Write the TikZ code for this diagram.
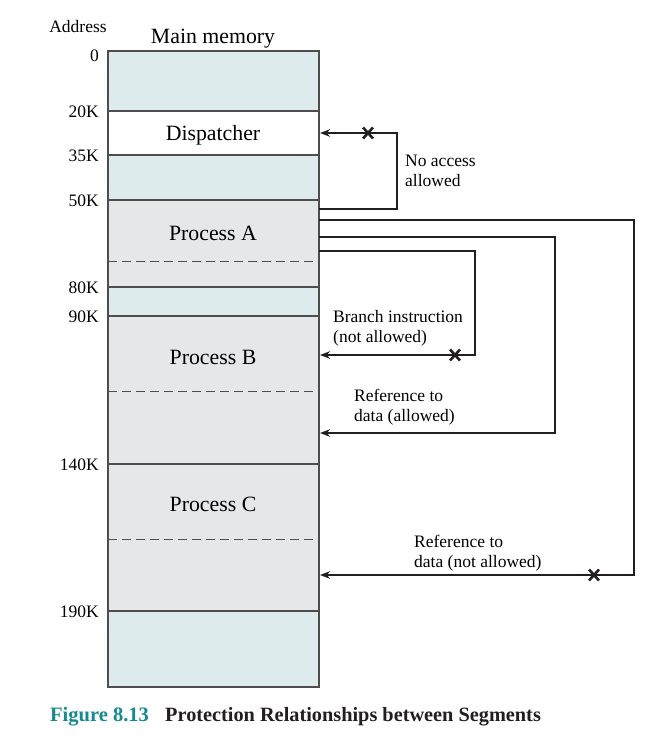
\documentclass[tikz,border=0pt]{standalone}
\usepackage{fontspec}
\setmainfont{Liberation Serif}
\usetikzlibrary{arrows.meta}
\definecolor{freemem}{HTML}{DDEBEC}
\definecolor{procmem}{HTML}{E6E7E9}
\definecolor{linegray}{HTML}{231F20}
\definecolor{figteal}{HTML}{168A8C}
\tikzset{deny/.pic={\draw[linegray,line width=2.6pt] (-5,-5.5)--(5,5.5) (-5,5.5)--(5,-5.5);}}
\begin{document}
\begin{tikzpicture}[x=1pt,y=-1pt,>={Stealth[length=10pt,width=7.5pt]},
		seg/.style={draw=linegray!80,line width=1.1pt},
		link/.style={draw=linegray,line width=2.2pt,->},
		addr/.style={anchor=east,inner sep=0pt,font=\fontsize{17.5}{20}\selectfont},
		note/.style={anchor=west,inner sep=0pt,align=left,font=\fontsize{17.5}{20}\selectfont},
		big/.style={font=\fontsize{21.8}{26}\selectfont}]
		\useasboundingbox (0,0) rectangle (663,754);
		% memory areas
		\fill[freemem] (108,51) rectangle (319,111);
		\fill[white] (108,111) rectangle (319,155);
		\fill[freemem] (108,155) rectangle (319,200);
		\fill[procmem] (108,200) rectangle (319,287);
		\fill[freemem] (108,287) rectangle (319,316);
		\fill[procmem] (108,316) rectangle (319,611);
		\fill[freemem] (108,611) rectangle (319,687);
		\draw[seg] (108,51) rectangle (319,687);
		\foreach \y/\lab in {111/20K,155/35K,200/50K,287/80K,316/90K,464/140K,611/190K} {
			\draw[seg] (108,\y) -- (319,\y);
			\node[addr] (k\y) at (99,\y+1) {\lab};
		}
		\foreach \y in {261,391,539}
			\draw[seg,line width=0.8pt,dash pattern=on 9pt off 5pt] (108,\y) -- (315,\y);
		\node[addr] (k0) at (99,56) {0};
		\node[addr,anchor=center] (address) at (78,27) {Address};
		\node[big] (mainmem) at (213,39) {Main memory};
		\node[big] (disp) at (213,135) {Dispatcher};
		\node[big] (procA) at (213,233) {Process A};
		\node[big] (procB) at (213,357) {Process B};
		\node[big] (procC) at (213,504) {Process C};
		% references out of process A
		\coordinate (aNo) at (319,209);
		\coordinate (aFar) at (319,220);
		\coordinate (aData) at (319,237);
		\coordinate (aBr) at (319,251);
		\coordinate (dispIn) at (320,133);
		\coordinate (cIn) at (320,575);
		\coordinate (bData) at (320,433);
		\coordinate (bBr) at (320,355);
		\draw[link] (aNo) -- (397,209) |- (dispIn);
		\draw[link] (aFar) -- (634,220) |- (cIn);
		\draw[link] (aData) -- (555,237) |- (bData);
		\draw[link] (aBr) -- (475,251) |- (bBr);
		\pic at (368,133) {deny};
		\pic at (455,355) {deny};
		\pic at (594,575) {deny};
		\node[note] (noacc) at (405,171) {No access\\allowed};
		\node[note] (branch) at (333,328) {Branch instruction\\(not allowed)};
		\node[note] (refok) at (354,407) {Reference to\\data (allowed)};
		\node[note] (refno) at (414,553) {Reference to\\data (not allowed)};
		% caption
		\node[anchor=base west,inner sep=0pt,text=figteal,font=\bfseries\fontsize{20.5}{24}\selectfont] (fignum) at (50,721) {Figure 8.13};
		\node[anchor=base west,inner sep=0pt,text=linegray,font=\bfseries\fontsize{20.3}{24}\selectfont] (figtitle) at (165,721) {Protection Relationships between Segments};
	\end{tikzpicture}
\end{document}
